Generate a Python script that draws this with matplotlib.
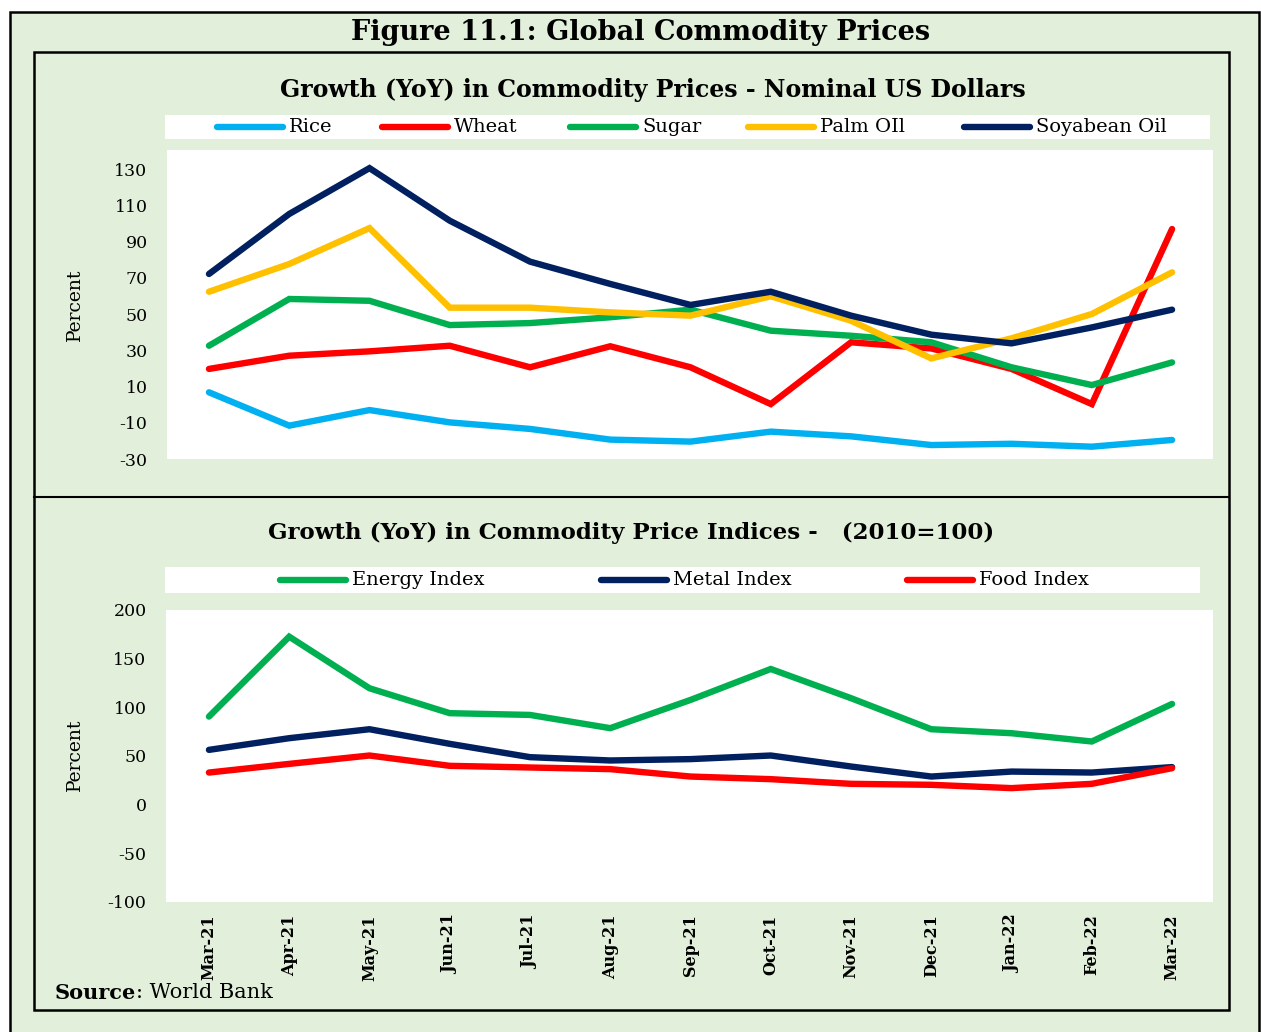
import matplotlib
matplotlib.use("Agg")
import matplotlib.pyplot as plt
from matplotlib.lines import Line2D
from matplotlib.patches import Rectangle

months = ["Mar-21", "Apr-21", "May-21", "Jun-21", "Jul-21", "Aug-21", "Sep-21",
          "Oct-21", "Nov-21", "Dec-21", "Jan-22", "Feb-22", "Mar-22"]

rice = [6.8, -11.6, -3.0, -9.8, -13.4, -19.3, -20.4, -14.9, -17.5, -22.3, -21.6, -23.2, -19.5]
wheat = [19.7, 27.0, 29.4, 32.5, 20.6, 32.2, 20.6, 0.3, 34.4, 31.0, 19.7, 0.3, 96.9]
sugar = [32.5, 58.3, 57.3, 43.9, 45.0, 48.2, 52.4, 40.8, 38.0, 34.4, 20.6, 10.8, 23.3]
palm_oil = [62.3, 77.6, 97.4, 53.5, 53.5, 50.9, 49.1, 59.8, 46.3, 25.5, 36.6, 50.0, 73.0]
soyabean_oil = [72.1, 105.2, 130.5, 101.5, 78.9, 66.6, 55.0, 62.3, 49.1, 38.6, 33.8, 42.6, 52.4]

energy_index = [90.5, 172.6, 119.6, 94.0, 92.2, 78.6, 107.6, 139.4, 109.4, 77.5, 73.4, 64.9, 103.5]
metal_index = [56.3, 68.3, 77.5, 62.5, 48.8, 45.4, 46.8, 50.5, 39.2, 28.9, 34.0, 33.0, 38.6]
food_index = [33.0, 41.9, 50.5, 39.9, 38.2, 36.5, 28.9, 26.2, 21.4, 20.4, 17.0, 21.4, 37.5]

top_ticks = [-30, -10, 10, 30, 50, 70, 90, 110, 130]
bottom_ticks = [-100, -50, 0, 50, 100, 150, 200]

top_series = [("Rice", rice, "#00B0F0"), ("Wheat", wheat, "#FF0000"),
              ("Sugar", sugar, "#00B050"), ("Palm OIl", palm_oil, "#FFC000"),
              ("Soyabean Oil", soyabean_oil, "#002060")]
bottom_series = [("Energy Index", energy_index, "#00B050"),
                 ("Metal Index", metal_index, "#002060"),
                 ("Food Index", food_index, "#FF0000")]

W, H = 1261, 1032
BG = "#E2EFDA"
SERIF = ["DejaVu Serif"]
fig = plt.figure(figsize=(W / 100, H / 100), dpi=100)
fig.patch.set_facecolor("white")


def fx(x):
    return x / W


def fy(y):
    return 1 - y / H


def rect_px(x0, y0, x1, y1, **kw):
    r = Rectangle((fx(x0), fy(y1)), fx(x1) - fx(x0), fy(y0) - fy(y1),
                  transform=fig.transFigure, **kw)
    fig.add_artist(r)
    return r


# outer green frame
rect_px(10, 12, 1259, 1040, facecolor=BG, edgecolor="black", linewidth=1.8, zorder=-2)
# inner frame
rect_px(34, 52, 1229, 1010, facecolor=BG, edgecolor="black", linewidth=1.8, zorder=-1.5)
fig.add_artist(Line2D([fx(34), fx(1229)], [fy(497), fy(497)], color="black",
                      linewidth=1.5, transform=fig.transFigure, zorder=-1))

fig.text(fx(641), fy(32), "Figure 11.1: Global Commodity Prices", ha="center", va="center",
         fontsize=19.5, fontweight="bold", family=SERIF)
fig.text(fx(653), fy(90), "Growth (YoY) in Commodity Prices - Nominal US Dollars",
         ha="center", va="center", fontsize=17, fontweight="bold", family=SERIF)
fig.text(fx(631), fy(533), "Growth (YoY) in Commodity Price Indices -   (2010=100)",
         ha="center", va="center", fontsize=16.5, fontweight="bold", family=SERIF)


def make_ax(x0, y0, x1, y1):
    ax = fig.add_axes([fx(x0), fy(y1), fx(x1) - fx(x0), fy(y0) - fy(y1)])
    ax.set_zorder(3)
    ax.set_facecolor("white")
    for s in ax.spines.values():
        s.set_visible(False)
    ax.tick_params(length=0)
    return ax


x = list(range(len(months)))

ax1 = make_ax(167, 150, 1213, 459)
for name, vals, col in top_series:
    ax1.plot(x, vals, color=col, linewidth=4.6, solid_capstyle="round", solid_joinstyle="miter")
ax1.set_xlim(-0.523, 12.51)
ax1.set_ylim(-30, 140.5)
ax1.set_yticks(top_ticks)
ax1.set_yticklabels([str(t) for t in top_ticks], family=SERIF, fontsize=12.5)
ax1.tick_params(axis="y", pad=14)
ax1.set_xticks([])
fig.text(fx(75), fy(305), "Percent", rotation=90, ha="center", va="center",
         fontsize=13.5, family=SERIF)

ax2 = make_ax(166, 610, 1213, 902)
for name, vals, col in bottom_series:
    ax2.plot(x, vals, color=col, linewidth=4.6, solid_capstyle="round", solid_joinstyle="miter")
ax2.set_xlim(-0.535, 12.51)
ax2.set_ylim(-100, 200)
ax2.set_yticks(bottom_ticks)
ax2.set_yticklabels([str(t) for t in bottom_ticks], family=SERIF, fontsize=12.5)
ax2.tick_params(axis="y", pad=14)
ax2.set_xticks(x)
ax2.set_xticklabels(months, rotation=90, family=SERIF, fontsize=11.5, fontweight="bold")
ax2.tick_params(axis="x", pad=9)
fig.text(fx(75), fy(755), "Percent", rotation=90, ha="center", va="center",
         fontsize=13.5, family=SERIF)


def legend_box(x0, y0, x1, y1, entries, line_x):
    rect_px(x0, y0, x1, y1, facecolor="white", edgecolor="none", zorder=1)
    yc = (y0 + y1) / 2
    for (name, _, col), lx in zip(entries, line_x):
        fig.add_artist(Line2D([fx(lx), fx(lx + 66)], [fy(yc), fy(yc)], color=col,
                              linewidth=4.6, solid_capstyle="round",
                              transform=fig.transFigure, zorder=2))
        fig.text(fx(lx + 72), fy(yc), name, ha="left", va="center", fontsize=14,
                 family=SERIF, zorder=3)


legend_box(165, 115, 1210, 139, top_series, [217, 382, 570, 748, 964])
legend_box(165, 567, 1200, 593, bottom_series, [280, 601, 907])

# source note
t1 = fig.text(fx(55), fy(993), "Source", ha="left", va="center", fontsize=15,
              fontweight="bold", family=SERIF)
fig.canvas.draw()
bb = t1.get_window_extent()
fig.text(bb.x1 / W, fy(993), ": World Bank", ha="left", va="center", fontsize=15,
         family=SERIF)

fig.savefig("out.png", dpi=100, facecolor=fig.get_facecolor())
